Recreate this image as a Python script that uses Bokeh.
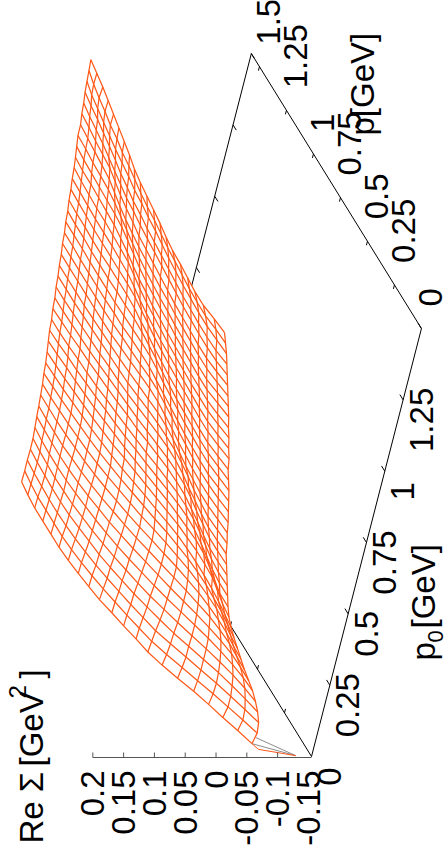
import numpy as np
from bokeh.plotting import figure
from bokeh.models import Range1d
from bokeh.core.properties import value
from bokeh.embed import file_html
from bokeh.resources import INLINE

# ---------- data ----------
p0_rows = [.045,.082,.119,.156,.193,.230,.267,.304,.341,.378,.415,.451,.488,.525,.562,.599,.636,.673,.710,.747,
           .784,.821,.858,.895,.932,.969,1.006,1.043,1.080,1.117,1.153,1.190,1.227,1.264,1.301,1.338,1.375,1.412,1.449,1.486]
p_end = [1.500,1.502,1.503,1.505,1.506,1.508,1.510,1.511,1.513,1.515,1.516,1.518,1.519,1.521,1.523,1.524,1.526,1.527,1.529,1.531,
         1.532,1.534,1.536,1.537,1.539,1.540,1.542,1.544,1.545,1.547,1.548,1.550,1.552,1.553,1.555,1.557,1.558,1.560,1.561,1.563]
p_frac = [0,.05,.1,.15,.2,.25,.3,.35,.4,.45,.5,.55,.6,.65,.7,.75,.8,.85,.9,.95,1]
# Re Sigma in 10^-3 GeV^2: one row per p0, one column per p
re_sigma = [
 [-53,-43,-32,-22,-11,2,14,24,30,37,43,50,54,58,61,63,63,63,63,61,58],
 [-57,-47,-36,-25,-13,-1,11,22,29,36,42,48,53,57,60,62,62,62,62,60,57],
 [-55,-46,-36,-26,-14,-3,9,20,27,34,40,46,51,55,58,60,61,61,60,59,57],
 [-49,-42,-34,-25,-14,-3,8,17,25,33,39,45,50,53,56,59,60,60,59,58,56],
 [-41,-37,-31,-23,-14,-4,6,15,24,31,37,43,48,52,55,58,59,60,59,58,56],
 [-32,-30,-26,-20,-13,-4,5,14,22,29,36,42,47,51,54,57,59,60,60,59,57],
 [-21,-21,-20,-16,-10,-3,5,13,20,27,34,40,46,50,54,57,59,60,60,59,58],
 [-10,-11,-12,-10,-7,-1,5,12,19,26,33,39,44,49,53,56,58,60,60,60,59],
 [0,-1,-3,-3,-1,2,7,12,19,25,32,38,43,48,52,55,57,59,60,60,60],
 [10,8,5,4,5,7,10,15,20,26,33,38,43,48,52,55,57,59,60,61,61],
 [20,17,14,13,12,13,15,19,23,29,34,39,44,48,52,55,57,59,61,62,63],
 [29,26,23,21,20,20,21,23,27,32,36,41,46,50,53,56,58,60,62,63,64],
 [37,34,29,24,23,23,25,27,31,35,39,43,47,52,55,58,60,62,64,65,66],
 [43,43,38,33,29,28,30,32,35,39,43,47,51,54,57,60,62,64,65,67,68],
 [48,48,46,42,38,35,34,36,39,43,47,50,54,57,59,62,64,66,67,69,70],
 [53,54,52,48,44,41,40,41,44,47,51,54,57,60,62,65,67,68,70,71,71],
 [58,59,59,56,52,49,46,46,47,50,53,57,59,62,64,66,68,69,71,72,73],
 [63,64,64,61,58,54,51,51,52,55,58,61,63,65,67,69,71,72,73,74,74],
 [68,69,70,68,65,62,58,56,56,58,61,64,67,69,70,72,73,74,75,76,76],
 [71,73,75,73,71,67,64,62,62,63,65,68,71,72,73,74,75,76,77,77,77],
 [75,77,79,79,77,75,72,69,67,67,69,71,73,75,76,77,78,79,79,79,79],
 [78,81,83,83,82,80,78,75,73,71,71,73,75,77,79,80,80,80,80,80,80],
 [82,85,87,87,86,84,82,79,77,75,75,77,78,79,81,82,82,82,82,82,82],
 [86,89,92,92,91,90,88,86,84,82,80,80,81,83,83,84,84,84,84,83,83],
 [90,93,96,96,95,94,92,90,88,85,83,83,84,85,86,86,86,86,85,85,85],
 [95,98,101,101,100,99,98,96,94,91,89,87,86,87,87,88,88,88,87,87,86],
 [100,103,106,106,105,104,103,102,100,98,95,93,90,89,89,89,90,90,89,89,88],
 [103,107,110,110,109,108,107,106,104,102,99,96,93,92,92,92,92,92,91,90,89],
 [108,112,115,115,114,113,112,111,110,108,106,103,99,96,95,94,94,94,93,92,91],
 [112,116,119,119,119,118,117,116,114,112,110,107,103,99,98,97,96,96,95,94,92],
 [117,121,124,124,124,123,122,121,119,118,115,113,109,105,102,99,98,97,96,96,94],
 [121,125,129,129,128,127,126,124,123,121,119,116,112,108,104,102,101,100,99,98,96],
 [126,130,134,134,133,132,131,129,128,126,124,121,118,114,110,106,103,102,101,99,98],
 [131,135,138,138,137,136,135,133,132,130,128,126,123,120,116,111,106,104,102,100,98],
 [136,140,143,143,142,141,140,138,136,134,132,130,126,123,119,114,109,107,105,102,100],
 [141,145,146,146,145,144,142,140,138,136,134,132,129,127,123,119,115,111,108,105,101],
 [146,150,151,151,150,149,147,145,143,141,139,136,134,130,127,122,118,114,110,107,103],
 [151,153,155,155,154,153,151,149,146,143,141,138,136,132,129,126,122,118,114,110,104],
 [157,159,162,162,161,159,157,155,152,149,147,144,140,136,133,128,125,120,116,111,105],
 [163,166,170,170,168,166,165,162,158,155,152,149,145,139,134,129,124,119,114,110,106],
]
# the short grey leads towards p0 = 0
lead_p0 = [.003, .045, .003, .066]
lead_p = [0, 0, 0, 0]
lead_z = [-129, -53, -129, -57]
low_p0 = [.003, .025, .045]
low_p = [0, 0, 0]
low_z = [-129, -66, -53]

p0_ticks = [0, .25, .5, .75, 1, 1.25, 1.5]
p_ticks = [0, .25, .5, .75, 1, 1.25, 1.5]
z_ticks = [.2, .15, .1, .05, 0, -.05, -.1]
p0_labels = ["0", "0.25", "0.5", "0.75", "1", "1.25"]
p_labels = ["0", "0.25", "0.5", "0.75", "1", "1.25", "1.5"]
z_labels = ["0.2", "0.15", "0.1", "0.05", "0", "-0.05", "-0.1", "-0.15"]
z_label_values = [.2, .15, .1, .05, 0, -.05, -.1, -.15]
p0_max, p_max, z_min = 1.5, 1.575, -.155

# ---------- view (the original is a gnuplot splot turned by 90 degrees) ----------
def px(p0, p, z):
    return 311 + 73.3*np.asarray(p0) - 108*np.asarray(p) - 616*(np.asarray(z) - z_min)
def py(p0, p):
    return 756 - 285.3*np.asarray(p0) - 174.6*np.asarray(p)

F = figure(width=444, height=861, x_range=Range1d(0, 444), y_range=Range1d(861, 0),
           x_axis_type=None, y_axis_type=None, min_border=0, toolbar_location=None,
           output_backend="svg", outline_line_color=None)
F.grid.visible = False
FONT = value("Liberation Sans")
ORANGE = "#ff5a19"

Z = np.array(re_sigma)/1000.0
P0 = np.array(p0_rows)
PP = np.outer(np.array(p_end), np.array(p_frac))
P0G = np.repeat(P0[:, None], PP.shape[1], axis=1)
X = px(P0G, PP, Z)
Y = py(P0G, PP)

# back edges of the base
def seg(a0, a1, b0, b1, color="black", w=1.0):
    F.line(px([a0, b0], [a1, b1], z_min), py([a0, b0], [a1, b1]), line_color=color, line_width=w)
seg(0, 0, 0, p_max)
seg(p0_max, p_max, 0, p_max)
for t in p_ticks[1:]:
    seg(0, t, .014, t)
for t in p0_ticks[1:]:
    seg(t, p_max, t, p_max-.03)

# surface hides what lies behind it
ox = np.concatenate([X[0], X[:, -1], X[-1][::-1], X[:, 0][::-1]])
oy = np.concatenate([Y[0], Y[:, -1], Y[-1][::-1], Y[:, 0][::-1]])
F.patch(ox, oy, fill_color="white", line_color=None)

F.multi_line([list(r) for r in X] + [list(c) for c in X.T],
             [list(r) for r in Y] + [list(c) for c in Y.T],
             line_color=ORANGE, line_width=1.25)

lz = np.array(lead_z)/1000.0
for k in (0, 2):
    F.line(px(lead_p0[k:k+2], lead_p[k:k+2], lz[k:k+2]), py(lead_p0[k:k+2], lead_p[k:k+2]),
           line_color="#8c8c8c", line_width=1.0)
F.line(px(low_p0, low_p, np.array(low_z)/1000.0), py(low_p0, low_p), line_color=ORANGE, line_width=1.0)

# front edges of the base
seg(0, 0, p0_max, 0)
seg(p0_max, 0, p0_max, p_max)
for t in p0_ticks[1:]:
    seg(t, 0, t, .03)
for t in p_ticks[1:]:
    seg(p0_max, t, p0_max-.014, t)

# z axis
zx = px(0, 0, np.array(z_ticks + [z_min]))
F.line([zx.min(), zx.max()], [757, 757], line_color="#555555", line_width=1.2)
for t in z_ticks:
    xx = float(px(0, 0, t))
    F.line([xx, xx], [752, 757], line_color="#555555", line_width=1.0)

SIZE = "33px"
F.text(px(0, 0, np.array(z_label_values)), [770]*len(z_labels), text=z_labels, angle=np.pi/2,
       text_font=FONT, text_font_size=SIZE, text_align="right", text_baseline="middle", text_color="black")
tk = np.array(p0_ticks[:len(p0_labels)])
F.text(px(tk, 0, z_min)+18, py(tk, 0)+20, text=p0_labels, angle=np.pi/2,
       text_font=FONT, text_font_size=SIZE, text_align="center", text_baseline="middle", text_color="black")
tk = np.array(p_ticks)
F.text(px(p0_max, tk, z_min)+9, py(p0_max, tk)-22, text=p_labels, angle=np.pi/2,
       text_font=FONT, text_font_size=SIZE, text_align="left", text_baseline="middle", text_color="black")

def label(x, y, s, size=SIZE):
    F.text([x], [y], text=[s], angle=np.pi/2, text_font=FONT, text_font_size=size,
           text_align="left", text_baseline="middle", text_color="black")
label(31, 843, "Re Σ")
label(31, 766, "[GeV")
label(16.5, 698, "2", "24px")
label(31, 678, "]")
label(362, 135, "p[GeV]")
label(423, 660, "p")
label(435, 642, "0", "22px")
label(423, 628, "[GeV]")

open("out.html", "w").write(file_html(F, INLINE))
